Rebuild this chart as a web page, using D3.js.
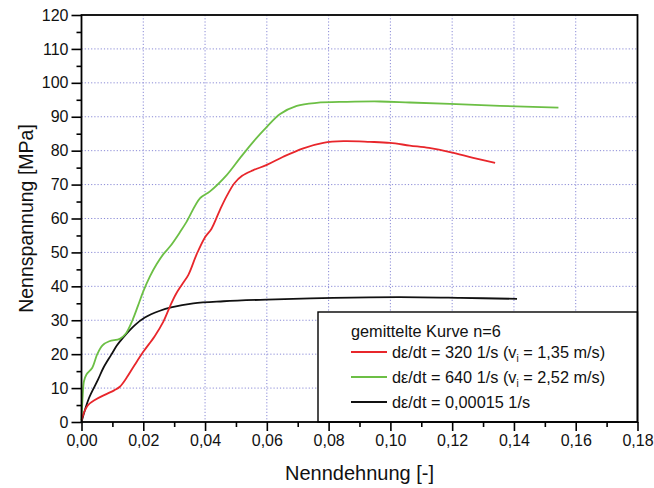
<!DOCTYPE html>
<meta charset="utf-8">
<style>
  body { margin:0; background:#fff; }
  svg { display:block; font-family:"Liberation Sans", Arial, sans-serif; }
</style>
<svg width="654" height="488"></svg>
<script src="https://d3js.org/d3.v7.min.js"></script>
<script>
// [Nenndehnung, Nennspannung]
var rot = [[0,0.5],[0.001,3.2],[0.0021,5.0],[0.0043,6.5],[0.0075,8.0],[0.0107,9.4],[0.0124,10.4],
  [0.0145,12.9],[0.0172,16.8],[0.02,20.7],[0.0237,25.3],[0.0265,29.6],[0.0287,34.2],[0.0305,37.6],
  [0.0325,40.5],[0.0346,43.4],[0.0373,49.5],[0.04,54.5],[0.0421,57.0],[0.0448,62.5],[0.047,66.6],
  [0.0495,70.4],[0.052,72.6],[0.0555,74.2],[0.06,75.8],[0.0653,78.2],[0.0718,80.7],[0.0783,82.3],
  [0.0848,82.8],[0.0934,82.6],[0.0999,82.3],[0.1063,81.5],[0.1125,80.8],[0.1193,79.6],[0.1268,77.9],
  [0.1339,76.4]];
var gruen = [[0,0.5],[0.0004,8],[0.0008,12.0],[0.0016,14.0],[0.0035,16.0],[0.0051,20.0],[0.0068,22.6],
  [0.009,23.8],[0.0124,24.5],[0.0143,26.0],[0.0165,30.0],[0.0183,34.3],[0.02,38.5],[0.0222,43.0],
  [0.0243,46.5],[0.0265,49.5],[0.0287,51.8],[0.0319,56.0],[0.034,59.0],[0.0384,66.0],[0.0416,68.0],
  [0.047,72.8],[0.0513,77.8],[0.0556,82.6],[0.06,87.0],[0.0643,90.8],[0.0697,93.2],[0.0761,94.1],
  [0.0859,94.4],[0.0966,94.5],[0.1063,94.2],[0.1193,93.8],[0.1355,93.2],[0.1544,92.7]];
var schwarz = [[0,0],[0.0024,7.0],[0.0053,12.4],[0.0071,16.0],[0.0096,19.8],[0.0115,22.6],[0.0134,24.8],
  [0.0172,28.5],[0.0205,30.8],[0.0254,32.8],[0.029,33.8],[0.0362,35.0],[0.046,35.6],[0.06,36.1],
  [0.0815,36.6],[0.103,36.8],[0.1225,36.6],[0.141,36.3]];

var xTicks = [0,0.02,0.04,0.06,0.08,0.10,0.12,0.14,0.16,0.18];
var yTicks = [0,10,20,30,40,50,60,70,80,90,100,110,120];

var legendTitle = "gemittelte Kurve n=6";
var serien = [
  {name:["dε/dt = 320 1/s (v", "i", " = 1,35 m/s)"], color:"#e8262b", data:rot},
  {name:["dε/dt = 640 1/s (v", "i", " = 2,52 m/s)"], color:"#6cbf45", data:gruen},
  {name:["dε/dt = 0,00015 1/s"], color:"#111", data:schwarz}
];

var svg = d3.select("svg"),
    m = {top:15, right:16.5, bottom:66, left:81.5},
    W = 654 - m.left - m.right,
    H = 488 - m.top - m.bottom,
    g = svg.append("g").attr("transform", "translate(" + m.left + "," + m.top + ")");

var x = d3.scaleLinear().domain([0, 0.18]).range([0, W]);
var y = d3.scaleLinear().domain([0, 120]).range([H, 0]);
var fmt = function(d) { return d3.format(".2f")(d).replace(".", ","); };

// gitter
g.append("g").selectAll("line")
  .data(xTicks.slice(1, -1)).enter().append("line")
    .attr("x1", x).attr("x2", x).attr("y1", 0).attr("y2", H)
    .attr("stroke", "#8a8ad6").attr("stroke-width", 1).attr("stroke-dasharray", "1.2,2");
g.append("g").selectAll("line")
  .data(yTicks.slice(1, -1)).enter().append("line")
    .attr("y1", y).attr("y2", y).attr("x1", 0).attr("x2", W)
    .attr("stroke", "#8a8ad6").attr("stroke-width", 1).attr("stroke-dasharray", "1.2,2");

// kurven
var line = d3.line()
    .x(function(d) { return x(d[0]); })
    .y(function(d) { return y(d[1]); })
    .curve(d3.curveCatmullRom.alpha(0.5));

g.append("g").selectAll("path")
  .data(serien.slice().reverse()).enter().append("path")
    .attr("fill", "none")
    .attr("stroke", function(d) { return d.color; })
    .attr("stroke-width", 1.8)
    .attr("d", function(d) { return line(d.data); });

// achsen
g.append("g").attr("transform", "translate(0," + H + ")")
  .call(d3.axisBottom(x).tickValues(xTicks).tickFormat(fmt).tickSize(9).tickPadding(4));
g.append("g").attr("transform", "translate(0," + H + ")")
  .call(d3.axisBottom(x).tickValues(d3.range(0.01, 0.18, 0.02)).tickFormat("").tickSize(5));
g.append("g")
  .call(d3.axisLeft(y).tickValues(yTicks).tickSize(10).tickPadding(3));
g.append("g")
  .call(d3.axisLeft(y).tickValues(d3.range(5, 120, 10)).tickFormat("").tickSize(5));

g.selectAll(".domain").remove();
g.selectAll(".tick line").attr("stroke", "#000").attr("stroke-width", 1.6);
g.selectAll(".tick text").attr("font-size", 16).attr("font-family", "Liberation Sans, Arial, sans-serif").attr("fill", "#111");

// legende
var lg = g.append("g").attr("transform", "translate(" + (318 - m.left) + "," + (312 - m.top) + ")");
lg.append("rect")
  .attr("width", W - (318 - m.left)).attr("height", H - (312 - m.top))
  .attr("fill", "#fff").attr("stroke", "#000").attr("stroke-width", 1.4);
lg.append("text").attr("x", 33).attr("y", 25).attr("font-size", 16.3).attr("fill", "#111").text(legendTitle);
var item = lg.selectAll(".item").data(serien).enter().append("g")
  .attr("transform", function(d, i) { return "translate(33," + (40 + i * 25) + ")"; });
item.append("line").attr("x1", 0).attr("x2", 36)
  .attr("stroke", function(d) { return d.color; }).attr("stroke-width", 1.8);
var t = item.append("text").attr("x", 41).attr("y", 6).attr("font-size", 16.3).attr("fill", "#111");
t.each(function(d) {
  var el = d3.select(this);
  el.append("tspan").text(d.name[0]);
  if (d.name.length > 1) {
    el.append("tspan").attr("font-size", 10).attr("dy", 4).text(d.name[1]);
    el.append("tspan").attr("dy", -4).text(d.name[2]);
  }
});

// rahmen
g.append("rect").attr("width", W).attr("height", H)
  .attr("fill", "none").attr("stroke", "#000").attr("stroke-width", 1.8);

// titel
g.append("text").attr("x", W / 2).attr("y", H + 58)
  .attr("text-anchor", "middle").attr("font-size", 20).attr("fill", "#111")
  .text("Nenndehnung [-]");
g.append("text")
  .attr("transform", "translate(" + (33 - m.left) + "," + (H / 2) + ")rotate(-90)")
  .attr("text-anchor", "middle").attr("font-size", 19.5).attr("fill", "#111")
  .text("Nennspannung [MPa]");
</script>
